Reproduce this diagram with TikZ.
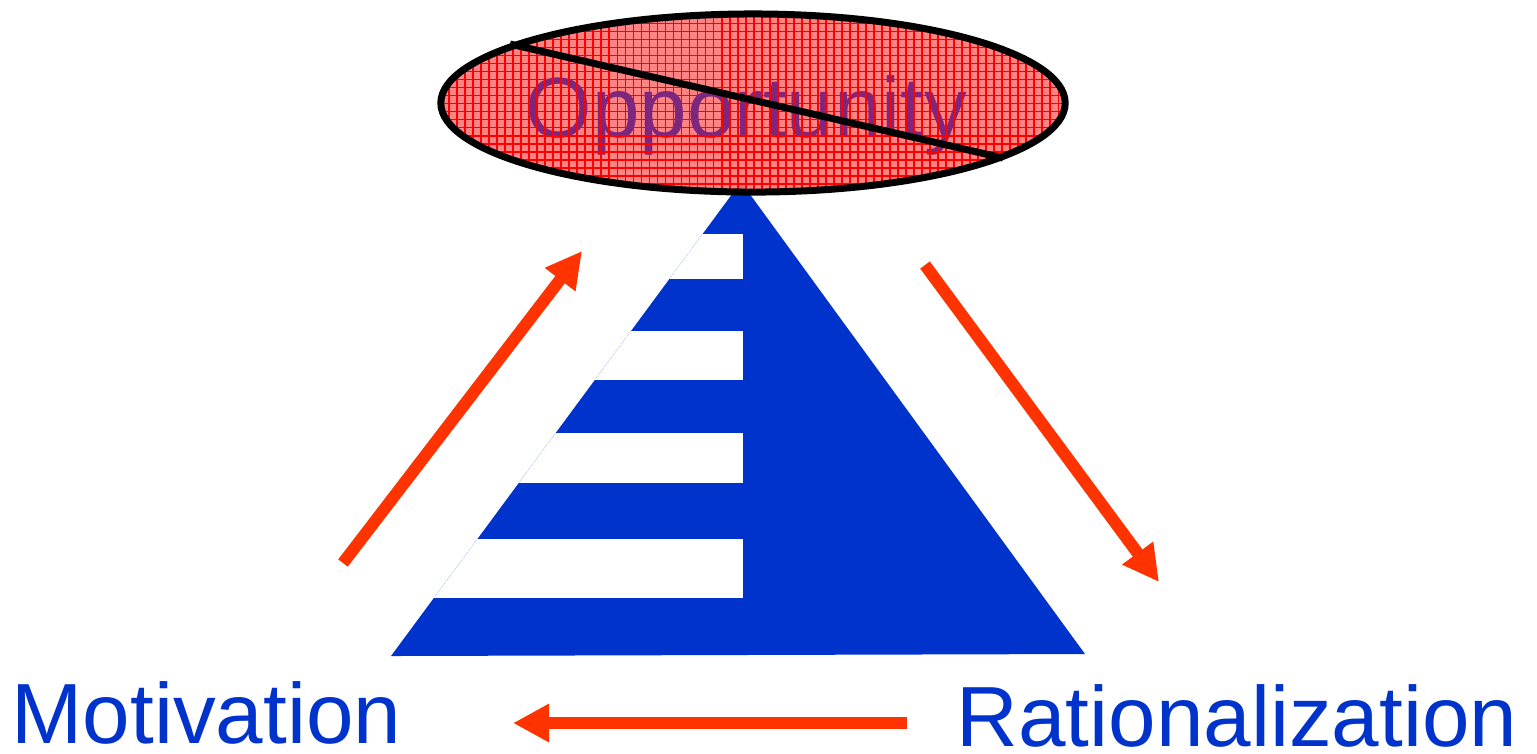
\documentclass[tikz,border=0pt]{standalone}
\usepackage{fontspec}
\setmainfont{Liberation Sans}
\usetikzlibrary{arrows.meta,patterns,shapes.geometric}
\definecolor{pblue}{RGB}{0,51,204}
\definecolor{parrow}{RGB}{255,51,0}
\definecolor{ppink}{RGB}{255,118,118}
\definecolor{ptext}{RGB}{125,38,125}
\pgfdeclarepatternformonly{finegrid}{\pgfqpoint{-1pt}{-1pt}}{\pgfqpoint{2.3pt}{2.3pt}}{\pgfqpoint{2.28pt}{2.28pt}}{%
  \pgfsetlinewidth{0.5pt}%
  \pgfpathmoveto{\pgfqpoint{0pt}{0pt}}\pgfpathlineto{\pgfqpoint{0pt}{2.35pt}}%
  \pgfpathmoveto{\pgfqpoint{0pt}{0pt}}\pgfpathlineto{\pgfqpoint{2.35pt}{0pt}}%
  \pgfusepath{stroke}}
\begin{document}
\begin{tikzpicture}[x=0.01cm,y=-0.01cm,
  flow/.style={draw=parrow, line width=0.12cm, -{Triangle[length=0.36cm,width=0.36cm]}},
  lbl/.style={text=pblue, font=\fontsize{24.3}{28}\selectfont, inner sep=0pt, anchor=base west},
  whiteband/.style={fill=white}]
\useasboundingbox (0,0) rectangle (1537,753);
% pyramid
\coordinate (apex) at (741,182);
\coordinate (bl) at (391,656);
\coordinate (br) at (1085,654);
\fill[pblue] (apex) -- (br) -- (bl) -- cycle;
\begin{scope}
  \clip (apex) -- (br) -- (bl) -- cycle;
  \fill[whiteband] (300,234) rectangle (743,279);
  \fill[whiteband] (300,331) rectangle (743,380);
  \fill[whiteband] (300,433) rectangle (743,483);
  \fill[whiteband] (300,539) rectangle (743,598);
\end{scope}
% ellipse
\node[ellipse, inner sep=0pt, minimum width=6.24cm, minimum height=1.78cm,
      fill=ppink, fill opacity=0.9] (opp) at (753,103) {};
\node[lbl, text=ptext] (opptext) at (525,137) {Opportunity};
\fill[pattern=finegrid, pattern color=red] (opp.center) ellipse [x radius=3.12cm, y radius=0.89cm];
\coordinate (s1) at (510,44);
\coordinate (s2) at (1003,158);
\draw[line width=0.07cm] (s1) -- (s2);
\draw[line width=0.07cm] (opp.center) ellipse [x radius=3.12cm, y radius=0.89cm];
% arrows
\coordinate (m1) at (343,563); \coordinate (m2) at (582,251);
\coordinate (r1) at (925,265); \coordinate (r2) at (1159,582);
\coordinate (b1) at (907,723); \coordinate (b2) at (513,723);
\draw[flow] (m1) -- (m2);
\draw[flow] (r1) -- (r2);
\draw[flow] (b1) -- (b2);
% labels
\node[lbl] (mot) at (11,743) {Motivation};
\node[lbl] (rat) at (956,746) {Rationalization};
\end{tikzpicture}
\end{document}
